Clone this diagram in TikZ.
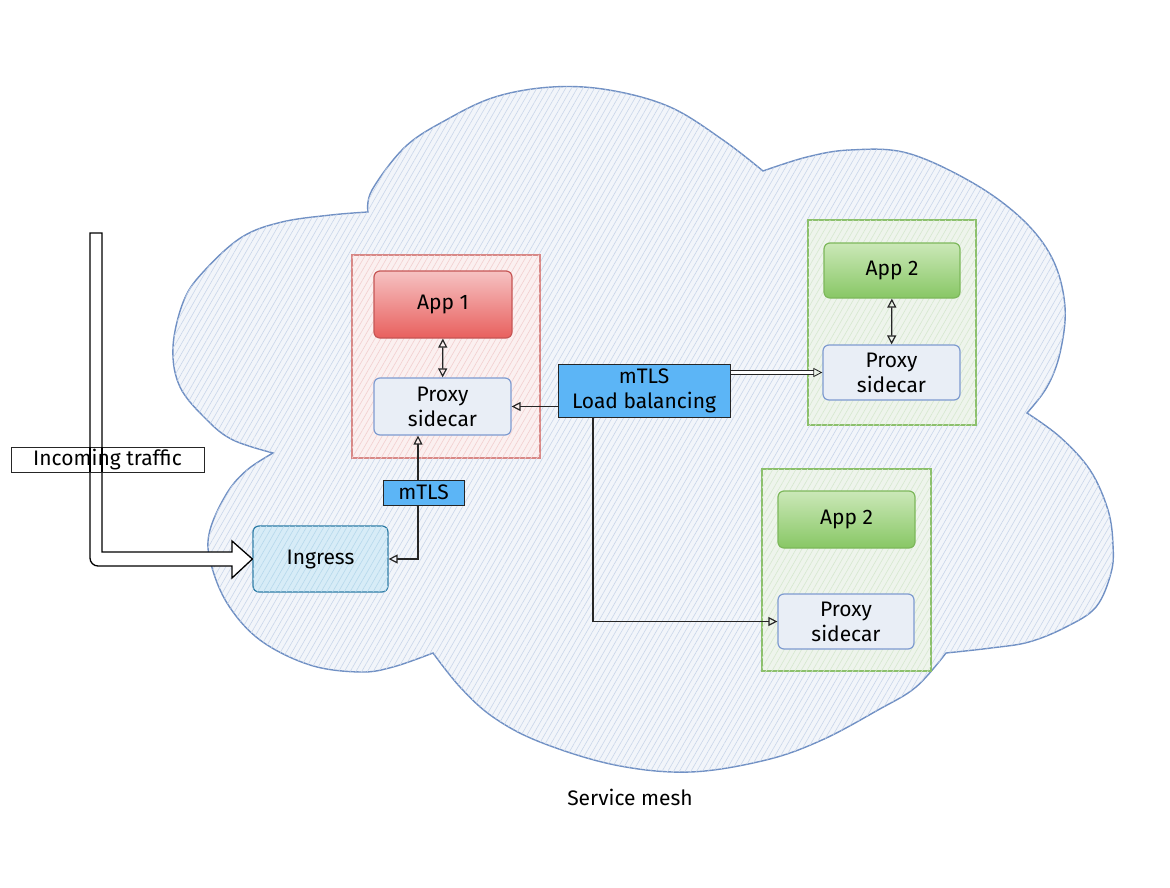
\documentclass[tikz,border=0pt]{standalone}
\usepackage{fontspec}
\setmainfont{Fira Sans}
\usetikzlibrary{arrows.meta, positioning, calc, patterns.meta}
\definecolor{meshstroke}{HTML}{7090C4}
\definecolor{meshfill}{HTML}{F2F5FA}
\definecolor{meshhatch}{HTML}{C9D6EA}
\definecolor{redstroke}{HTML}{D88886}
\definecolor{redfill}{HTML}{FBF0F0}
\definecolor{redhatch}{HTML}{F2CFCF}
\definecolor{apponetop}{HTML}{F6C2C2}
\definecolor{apponebot}{HTML}{E8605E}
\definecolor{apponestroke}{HTML}{C65655}
\definecolor{greenstroke}{HTML}{8CC06C}
\definecolor{greenfill}{HTML}{EEF4EC}
\definecolor{greenhatch}{HTML}{D6E8CF}
\definecolor{apptwotop}{HTML}{CBE8B8}
\definecolor{apptwobot}{HTML}{88C765}
\definecolor{apptwostroke}{HTML}{7DB85B}
\definecolor{proxystroke}{HTML}{7E9BD0}
\definecolor{proxyfill}{HTML}{E9EEF6}
\definecolor{tlsfill}{HTML}{5CB5F6}
\definecolor{ingressstroke}{HTML}{2D7CA6}
\definecolor{ingressfill}{HTML}{D7ECF7}
\definecolor{ingresshatch}{HTML}{B5D8EC}

\begin{document}
\begin{tikzpicture}[x=1pt, y=-1pt, font=\fontsize{21}{25}\selectfont,
  hatched/.style={postaction={pattern={Lines[angle=60,distance=5pt,line width=0.6pt]}, pattern color=#1}},
  podbox/.style={rectangle, inner sep=0pt, line width=1.2pt},
  redpod/.style={podbox, draw=redstroke, fill=redfill, hatched=redhatch},
  greenpod/.style={podbox, draw=greenstroke, fill=greenfill, hatched=greenhatch},
  appbox/.style={rectangle, rounded corners=6pt, inner sep=0pt, line width=1.2pt},
  appone/.style={appbox, draw=apponestroke, top color=apponetop, bottom color=apponebot},
  apptwo/.style={appbox, draw=apptwostroke, top color=apptwotop, bottom color=apptwobot},
  proxybox/.style={appbox, draw=proxystroke, fill=proxyfill, align=center},
  tagbox/.style={rectangle, inner sep=0pt, draw=black!85, fill=tlsfill, line width=1pt, align=center},
  link/.style={line width=1.2pt, black!85, -{Triangle[open, length=9pt, width=9pt]}},
  bothlink/.style={link, {Triangle[open, length=9pt, width=9pt]}-{Triangle[open, length=9pt, width=9pt]}}]
  \useasboundingbox (0,0) rectangle (1170,888);

  % service mesh cloud
  \draw[draw=meshstroke, line width=1.4pt, fill=meshfill, hatched=meshhatch] (273,453)
    -- plot[smooth, tension=0.6] coordinates {(273,453) (233,440) (207,420) (180,387) (173,347) (184,300) (205,270) (242,237) (282,222) (331,215) (368,212)}
    -- plot[smooth, tension=0.6] coordinates {(368,212) (372,190) (405,147) (446,120) (495,97) (552,87) (609,90) (670,107) (723,140) (763,171)}
    -- plot[smooth, tension=0.6] coordinates {(763,171) (807,157) (850,150) (907,153) (973,183) (1023,220) (1053,260) (1065,307) (1060,353) (1047,387) (1027,413)}
    -- plot[smooth, tension=0.6] coordinates {(1027,413) (1060,437) (1090,470) (1108,510) (1113,545) (1111,573) (1096,607) (1066,627) (1029,642) (991,648) (946,653)}
    -- plot[smooth, tension=0.6] coordinates {(946,653) (916,687) (878,710) (822,740) (766,760) (690,772) (615,765) (540,742) (493,717) (460,687) (433,653)}
    -- plot[smooth, tension=0.6] coordinates {(433,653) (393,667) (360,672) (310,665) (260,640) (227,603) (210,560) (210,530) (227,493) (247,470) (273,453)}
    -- cycle;
  \node (mesh) at (630,797) {Service mesh};

  % pods
  \node[redpod, minimum width=188pt, minimum height=203pt] (pod1) at (446,356.5) {};
  \node[greenpod, minimum width=168pt, minimum height=205pt] (pod2) at (892,322.5) {};
  \node[greenpod, minimum width=169pt, minimum height=202pt] (pod3) at (846.5,570) {};

  \node[appone, minimum width=138pt, minimum height=67pt] (app1) at (443,304.5) {App 1};
  \node[proxybox, minimum width=137pt, minimum height=57pt] (proxy1) at (442.5,406.5) {Proxy\\sidecar};
  \node[apptwo, minimum width=136pt, minimum height=55pt] (app2) at (892,270.5) {App 2};
  \node[proxybox, minimum width=137pt, minimum height=55pt] (proxy2) at (891.5,372.5) {Proxy\\sidecar};
  \node[apptwo, minimum width=137pt, minimum height=57pt] (app3) at (846.5,519.5) {App 2};
  \node[proxybox, minimum width=136pt, minimum height=55pt] (proxy3) at (846,621.5) {Proxy\\sidecar};

  \node[appbox, draw=ingressstroke, fill=ingressfill, hatched=ingresshatch, minimum width=135pt, minimum height=66pt] (ingress) at (320.5,559) {Ingress};

  \node[tagbox, minimum width=172pt, minimum height=53pt] (lb) at (644,390.5) {mTLS\\Load balancing};

  % sidecar links
  \draw[bothlink] (app1) -- (proxy1);
  \draw[bothlink] (app2) -- (proxy2);
  \draw[link] (lb.west |- proxy1.east) -- (proxy1.east);
  \draw[link, double, double distance=2.5pt, line width=0.8pt] (lb.east |- proxy2.west) -- (proxy2.west);
  \draw[link] ([xshift=-51pt]lb.south) |- (proxy3.west);
  \draw[bothlink] ([xshift=-24.5pt]proxy1.south) |- (ingress.east);
  \node[tagbox, minimum width=81pt, minimum height=25pt] (tls) at (423.5,492.5) {mTLS};

  % incoming traffic
  \draw[line width=1.3pt, fill=white] (102,233) -- (102,552) -- (232,552) -- (232,541) -- (ingress.west) -- (232,578) -- (232,566) [rounded corners=8pt] -- (90,566) [sharp corners] -- (90,233) -- cycle;
  \node[rectangle, draw=black!85, fill=white, line width=1pt, minimum width=193pt, minimum height=25pt, inner sep=0pt] (traffic) at (107.5,459.5) {Incoming traffic};
  \draw[line width=1.3pt] (102,447) -- (102,472) (90,447) -- (90,472);
\end{tikzpicture}
\end{document}
